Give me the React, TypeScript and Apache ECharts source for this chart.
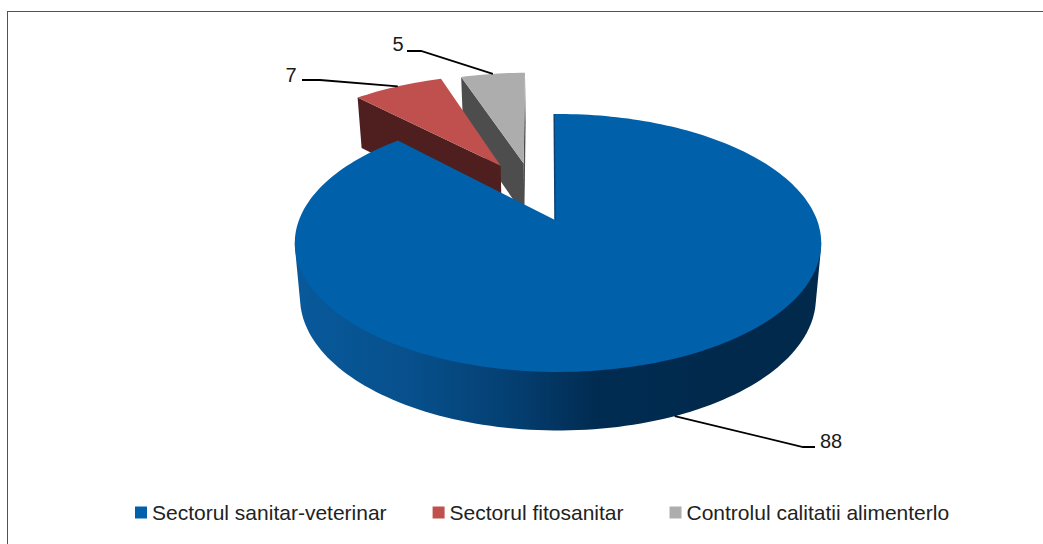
import React, { useEffect, useRef } from "react";
import * as echarts from "echarts";

const categories = ["Sectorul sanitar-veterinar", "Sectorul fitosanitar", "Controlul calitatii alimenterlo"];
const values = [88, 7, 5];
const topColors = ["#0060aa", "#c0504d", "#adadad"];
const cutColors = ["#0a3f70", "#4f1f1f", "#4d4d4d"];
const explodeX = [0, -0.24, -0.144];
const explodeY = [0, 0.47, 0.4925];
const leaderElbowX = [803, 320, 421];
const leaderElbowY = [447, 80, 51];
const leaderEndX = [815, 302, 407];
const leaderEndY = [447, 80, 51];
const labelX = [831, 291, 398];
const labelY = [441, 75, 44];
const anchorOnLowerRim = [true, false, false];

const START_DEG = -1;
const total = values.reduce((a, b) => a + b, 0);
const cumulative: number[] = [];
values.reduce((acc, v, i) => {
  cumulative[i] = acc;
  return acc + v;
}, 0);

const PIVOT_X = 558;
const PIVOT_Y = 220;
const RX = 259;
const RY = 124.9;
const PERSP = 0.178;

type Pt = [number, number];

function project(deg: number, ex: number, ey: number, radius = 1): Pt {
  const t = (deg * Math.PI) / 180;
  const X = radius * Math.sin(t) + ex;
  const Y = radius * Math.cos(t) + ey;
  const w = 1 + PERSP * Y;
  return [PIVOT_X + (RX * X) / w, PIVOT_Y - (RY * Y) / w];
}

function lower(p: Pt): Pt {
  return [PIVOT_X + (p[0] - PIVOT_X) * 0.98, PIVOT_Y + (p[1] - PIVOT_Y) * 1.03 + 54];
}

function arc(a: number, b: number, ex: number, ey: number): Pt[] {
  const pts: Pt[] = [];
  const n = Math.max(2, Math.ceil(Math.abs(b - a) / 1.5));
  for (let i = 0; i <= n; i++) pts.push(project(a + ((b - a) * i) / n, ex, ey));
  return pts;
}

function convexHull(input: Pt[]): Pt[] {
  const pts = [...input].sort((p, q) => p[0] - q[0] || p[1] - q[1]);
  const cross = (o: Pt, a: Pt, b: Pt) => (a[0] - o[0]) * (b[1] - o[1]) - (a[1] - o[1]) * (b[0] - o[0]);
  const build = (list: Pt[]) => {
    const out: Pt[] = [];
    for (const p of list) {
      while (out.length >= 2 && cross(out[out.length - 2], out[out.length - 1], p) <= 0) out.pop();
      out.push(p);
    }
    out.pop();
    return out;
  };
  return [...build(pts), ...build([...pts].reverse())];
}

const sideGradient = new echarts.graphic.LinearGradient(
  296, 0, 820, 0,
  [
    { offset: 0, color: "#08599b" },
    { offset: 0.22, color: "#07508c" },
    { offset: 0.42, color: "#043e70" },
    { offset: 0.57, color: "#012c52" },
    { offset: 0.8, color: "#00294c" },
    { offset: 1, color: "#00294c" },
  ],
  true
);

function renderSlice(params: any, api: any) {
  const i = params.seriesIndex;
  const value = api.value(0);
  const a0 = START_DEG + (cumulative[i] / total) * 360;
  const a1 = a0 + (value / total) * 360;
  const mid = (a0 + a1) / 2;
  const ex = explodeX[i];
  const ey = explodeY[i];
  const apex = project(0, ex, ey, 0);
  const rim = arc(a0, a1, ex, ey);
  const children: any[] = [];

  if (i === 0) {
    const frontTop = arc(100, 260, ex, ey);
    children.push({
      type: "polygon",
      shape: { points: convexHull([...frontTop, ...frontTop.map(lower)]) },
      style: { fill: sideGradient },
    });
    const tip: Pt = [apex[0] - 3, apex[1]];
    children.push({
      type: "polygon",
      shape: { points: [tip, ...rim] },
      style: { fill: topColors[i] },
    });
    children.push({
      type: "polyline",
      shape: { points: [rim[0], tip] },
      style: { stroke: cutColors[i], lineWidth: 1.4, fill: "none" },
    });
  } else {
    const first = rim[0];
    const last = rim[rim.length - 1];
    if (i === 2) {
      children.push({
        type: "polygon",
        shape: { points: [last, apex, lower(apex), lower(last)] },
        style: { fill: cutColors[i] },
      });
    }
    children.push({
      type: "polygon",
      shape: { points: [first, apex, lower(apex), lower(first)] },
      style: { fill: cutColors[i] },
    });
    children.push({
      type: "polygon",
      shape: { points: [apex, ...rim] },
      style: { fill: topColors[i] },
    });
  }

  const m = project(mid, ex, ey);
  const anchor = anchorOnLowerRim[i] ? lower(m) : m;
  children.push({
    type: "polyline",
    shape: {
      points: [anchor, [leaderElbowX[i], leaderElbowY[i]], [leaderEndX[i], leaderEndY[i]]],
    },
    style: { stroke: "#000", lineWidth: 1.8, fill: "none" },
    z2: 10,
  });
  children.push({
    type: "text",
    x: labelX[i],
    y: labelY[i],
    style: {
      text: String(value),
      fill: "#1a1a1a",
      font: '20px "Liberation Sans"',
      align: "center",
      verticalAlign: "middle",
    },
    z2: 10,
  });
  return { type: "group", children };
}

export default function App() {
  const ref = useRef<HTMLDivElement>(null);
  useEffect(() => {
    const chart = echarts.init(ref.current!, undefined, { renderer: "svg" });
    chart.setOption({
      animation: false,
      backgroundColor: "#ffffff",
      graphic: [
        { type: "rect", shape: { x: 7, y: 11, width: 1036, height: 1 }, style: { fill: "#e0141c" } },
        { type: "rect", shape: { x: 7, y: 11, width: 1, height: 533 }, style: { fill: "#e0141c" } },
      ],
      legend: {
        left: 135,
        top: 502,
        selectedMode: false,
        itemWidth: 12,
        itemHeight: 12,
        itemGap: 46,
        padding: 0,
        data: categories.map((name, i) => ({
          name,
          icon: "rect",
          itemStyle: { color: topColors[i] },
        })),
        textStyle: {
          fontFamily: '"Liberation Sans"',
          fontSize: 21,
          color: "#222",
        },
      },
      series: categories.map((name, i) => ({
        type: "custom",
        name,
        coordinateSystem: "none",
        silent: true,
        z: 3 - i,
        itemStyle: { color: topColors[i] },
        data: [[values[i]]],
        renderItem: renderSlice,
      })),
    });
    return () => chart.dispose();
  }, []);
  return <div ref={ref} style={{ position: "fixed", left: 0, top: 0, width: 1043, height: 544 }} />;
}
